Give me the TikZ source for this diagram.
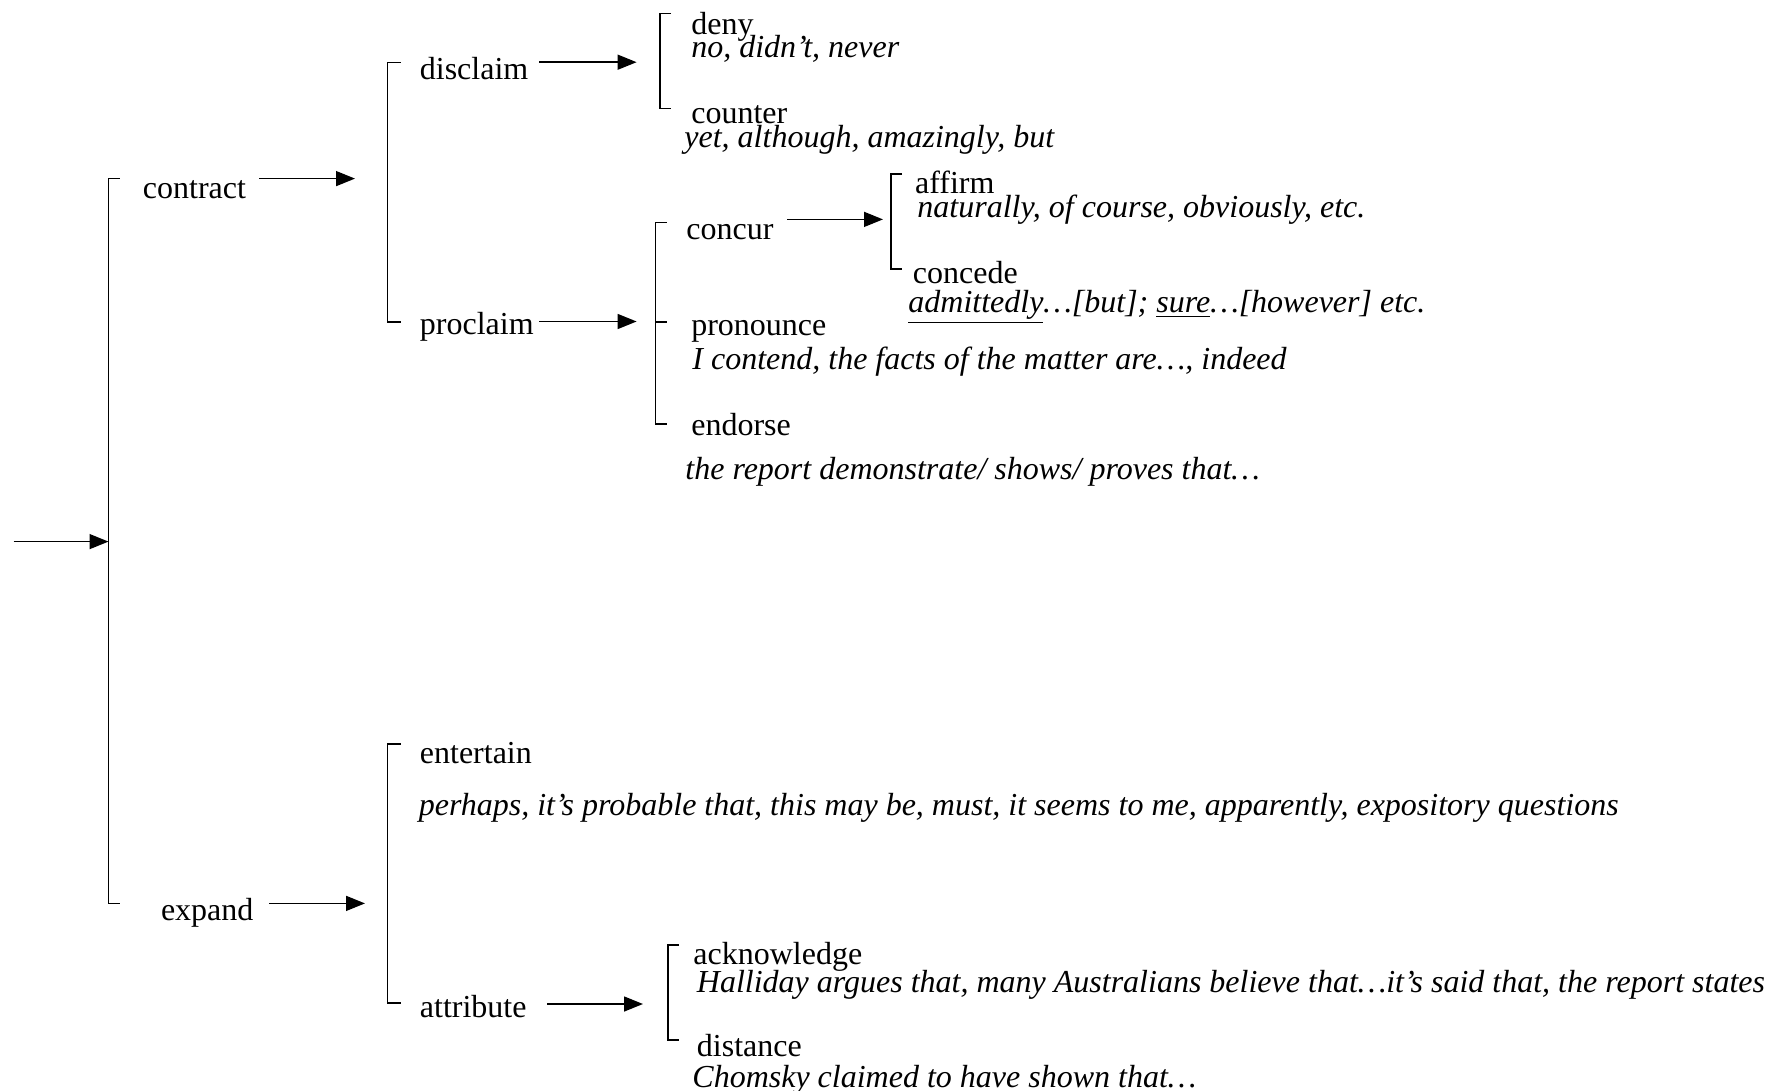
\documentclass[tikz,border=0pt]{standalone}
\usepackage{fontspec}
\setmainfont{Liberation Serif}
\usetikzlibrary{arrows.meta}
\begin{document}
\begin{tikzpicture}[x=0.5pt,y=-0.5pt,
  term/.style={anchor=base west,inner sep=0pt,font=\fontsize{16}{19}\selectfont},
  example/.style={anchor=base west,inner sep=0pt,font=\fontsize{16}{19}\selectfont\itshape},
  bracket/.style={line width=0.6pt},
  link/.style={line width=0.75pt,-{Triangle[length=9.5pt,width=7.5pt]}}]
\useasboundingbox (0,0) rectangle (1773,1091);

% ---------- bracket corners and arrow ends ----------
\coordinate (mainTop) at (108.5,178.6);
\coordinate (mainBot) at (108.5,903.4);
\coordinate (mainIn)  at (108.5,541.6);
\coordinate (inStart) at (13.6,541.6);

\coordinate (conTop) at (387.8,62.2);
\coordinate (conBot) at (387.8,322);
\coordinate (conIn)  at (355,178.6);
\coordinate (conOut) at (259,178.6);

\coordinate (expTop) at (387.8,744);
\coordinate (expBot) at (387.8,1003);
\coordinate (expIn)  at (365,903.4);
\coordinate (expOut) at (269,903.4);

\coordinate (disTop) at (660,13.6);
\coordinate (disBot) at (660,108.5);
\coordinate (disIn)  at (636.6,62.2);
\coordinate (disOut) at (539,62.2);

\coordinate (proTop) at (655.8,222.7);
\coordinate (proMid) at (655.8,322);
\coordinate (proBot) at (655.8,424);
\coordinate (proIn)  at (636.6,321.5);
\coordinate (proOut) at (539,321.5);

\coordinate (ccrTop) at (891,174);
\coordinate (ccrBot) at (891,269);
\coordinate (ccrIn)  at (883,219.4);
\coordinate (ccrOut) at (787,219.4);

\coordinate (attTop) at (668,945);
\coordinate (attBot) at (668,1040);
\coordinate (attIn)  at (643,1004);
\coordinate (attOut) at (547,1004);

% ---------- brackets ----------
\draw[bracket] (mainTop) ++(11,0) -- (mainTop) -- (mainBot) -- ++(11,0);
\draw[bracket] (conTop) ++(13,0) -- (conTop) -- (conBot) -- ++(13,0);
\draw[bracket] (expTop) ++(13,0) -- (expTop) -- (expBot) -- ++(13,0);
\draw[bracket] (disTop) ++(11,0) -- (disTop) -- (disBot) -- ++(11,0);
\draw[bracket] (proTop) ++(11,0) -- (proTop) -- (proBot) -- ++(11,0);
\draw[bracket] (proMid) -- ++(11,0);
\draw[bracket] (ccrTop) ++(11,0) -- (ccrTop) -- (ccrBot) -- ++(11,0);
\draw[bracket] (attTop) ++(11,0) -- (attTop) -- (attBot) -- ++(11,0);

% ---------- arrows ----------
\draw[link] (inStart) -- (mainIn);
\draw[link] (conOut) -- (conIn);
\draw[link] (expOut) -- (expIn);
\draw[link] (disOut) -- (disIn);
\draw[link] (proOut) -- (proIn);
\draw[link] (ccrOut) -- (ccrIn);
\draw[link] (attOut) -- (attIn);

% ---------- terms ----------
\node[term] (contract) at (142.5,198.5) {contract};
\node[term] (expand) at (160.6,920.5) {expand};
\node[term] (disclaim) at (419.5,79.5) {disclaim};
\node[term] (proclaim) at (419.5,334.5) {proclaim};
\node[term] (entertain) at (419.5,763) {entertain};
\node[term] (attribute) at (419.5,1017) {attribute};

\node[term] (deny) at (690.9,34.5) {deny};
\node[example] (denyEx) at (690.9,57.5) {no, didn’t, never};
\node[term] (counter) at (690.9,123.5) {counter};
\node[example] (counterEx) at (684,147.5) {yet, although, amazingly, but};

\node[term] (concur) at (686,240) {concur};
\node[term] (affirm) at (914.7,194) {affirm};
\node[example] (affirmEx) at (917,218) {naturally, of course, obviously, etc.};
\node[term] (concede) at (912.5,283.5) {concede};
\node[example] (concedeEx) at (908,313) {\underline{admittedly}…[but]; \underline{sure}…[however] etc.};

\node[term] (pronounce) at (690.9,335.5) {pronounce};
\node[example] (pronounceEx) at (692,370) {I contend, the facts of the matter are…, indeed};
\node[term] (endorse) at (690.9,435) {endorse};
\node[example] (endorseEx) at (685,479) {the report demonstrate/ shows/ proves that…};

\node[example] (entertainEx) at (418.4,815) {perhaps, it’s probable that, this may be, must, it seems to me, apparently, expository questions};

\node[term] (acknowledge) at (693,964) {acknowledge};
\node[example] (acknowledgeEx) at (696.5,992) {Halliday argues that, many Australians believe that…it’s said that, the report states};
\node[term] (distance) at (696.5,1056) {distance};
\node[example] (distanceEx) at (692,1087) {Chomsky claimed to have shown that…};
\end{tikzpicture}
\end{document}
